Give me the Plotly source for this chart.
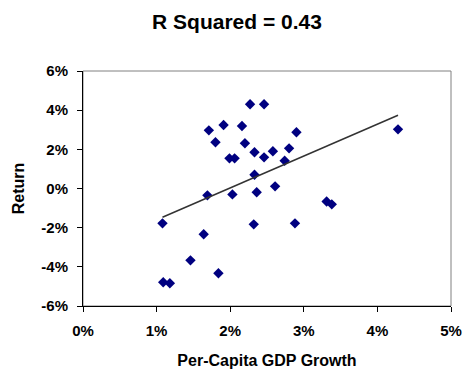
import numpy as np
import plotly.graph_objects as go

# Per-capita GDP growth (%) and return (%)
gdp_growth = [1.08, 1.09, 1.18, 1.46, 1.64, 1.84, 1.69, 2.03, 2.33, 2.36, 2.61,
              2.32, 2.88, 2.74, 2.27, 2.46, 1.71, 1.91, 2.16, 1.80, 2.20, 2.90,
              2.33, 2.58, 2.80, 2.46, 1.99, 2.06, 4.28, 3.31, 3.38]
returns = [-1.78, -4.79, -4.84, -3.67, -2.34, -4.33, -0.35, -0.30, 0.70, -0.19, 0.11,
           -1.83, -1.78, 1.42, 4.30, 4.30, 2.97, 3.24, 3.19, 2.36, 2.31, 2.87,
           1.85, 1.90, 2.05, 1.59, 1.54, 1.54, 3.02, -0.66, -0.81]

# Trendline (as drawn in the reference)
trend_x = [1.08, 4.28]
trend_y = [-1.47, 3.74]

x_ticks = [0, 1, 2, 3, 4, 5]
x_labels = ["0%", "1%", "2%", "3%", "4%", "5%"]
y_ticks = [-6, -4, -2, 0, 2, 4, 6]
y_labels = ["-6%", "-4%", "-2%", "0%", "2%", "4%", "6%"]

FONT = "Liberation Sans, Arial, sans-serif"
W, H = 475, 378
PAGE_OFFSET = 8  # default body margin of the html page

fig = go.Figure()
fig.add_trace(go.Scatter(
    x=gdp_growth, y=returns, mode="markers",
    marker=dict(symbol="diamond", size=8, color="#000080",
                line=dict(width=0)),
    showlegend=False, hoverinfo="skip"))
fig.add_trace(go.Scatter(
    x=trend_x, y=trend_y, mode="lines",
    line=dict(color="#333333", width=1.5),
    showlegend=False, hoverinfo="skip"))

fig.add_shape(type="rect", xref="paper", yref="paper", x0=0, x1=1, y0=0, y1=1,
              line=dict(color="#808080", width=1), fillcolor="rgba(0,0,0,0)",
              layer="below")

axis_common = dict(showgrid=False, zeroline=False, showline=True,
                   linecolor="black", linewidth=1, ticks="outside",
                   ticklen=5, tickcolor="black", tickwidth=1, automargin=False,
                   tickfont=dict(family=FONT, size=15, color="black"))

fig.update_layout(
    width=W, height=H,
    margin=dict(l=83 - PAGE_OFFSET, r=24 + PAGE_OFFSET,
                t=71 - PAGE_OFFSET, b=72 + PAGE_OFFSET, autoexpand=False),
    paper_bgcolor="white", plot_bgcolor="white",
    title=dict(text="<b>R Squared = 0.43</b>", x=(237 - PAGE_OFFSET) / W, xref="container",
               xanchor="center", y=1 - (22 - PAGE_OFFSET) / H, yanchor="middle",
               font=dict(family=FONT, size=21, color="black"), automargin=False),
    xaxis=dict(range=[0, 5], tickvals=x_ticks, ticktext=[f"<b>{t}</b>" for t in x_labels],
               ticklabelstandoff=6,
               title=dict(text="<b>Per-Capita GDP Growth</b>", standoff=16,
                          font=dict(family=FONT, size=16, color="black")),
               **axis_common),
    yaxis=dict(range=[-6, 6], tickvals=y_ticks, ticktext=[f"<b>{t}</b>" for t in y_labels],
               ticklabelstandoff=6,
               title=dict(text="<b>Return</b>", standoff=12,
                          font=dict(family=FONT, size=16, color="black")),
               **axis_common),
)

fig.write_html("out.html")
